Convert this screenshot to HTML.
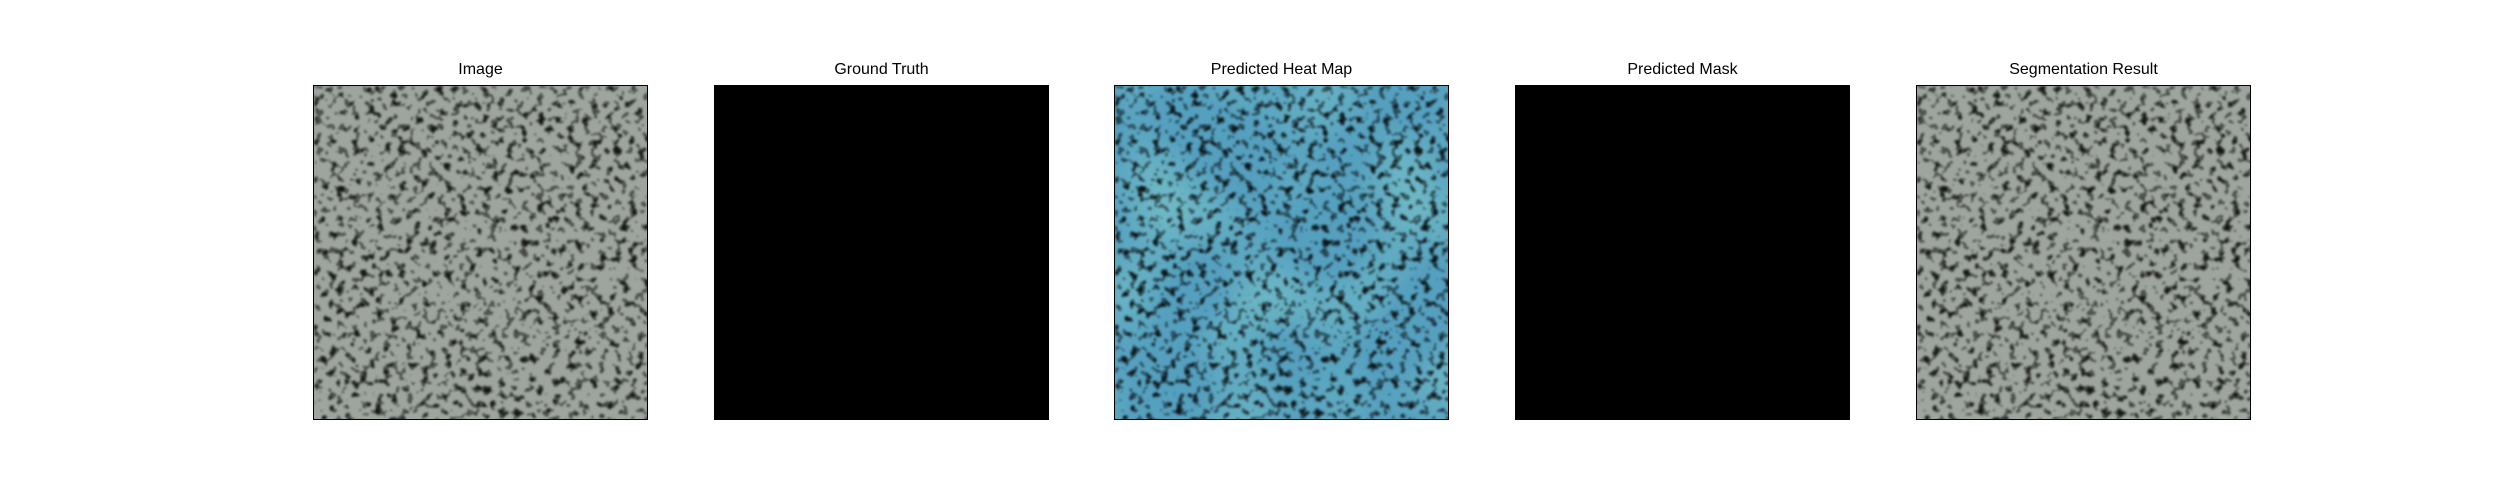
<!DOCTYPE html>
<html><head><meta charset="utf-8">
<style>
html,body{margin:0;padding:0;background:#fff;}
body{width:2500px;height:500px;position:relative;overflow:hidden;font-family:"Liberation Sans","DejaVu Sans",sans-serif;}
.title{position:absolute;top:61px;width:335px;text-align:center;font-size:16px;color:#000;}
.panel{position:absolute;top:85px;width:335px;height:335px;box-sizing:border-box;border:1.5px solid #000;overflow:hidden;}
.panel svg{display:block;}
</style></head><body>
<svg width="0" height="0" style="position:absolute">
 <defs>
  <filter id="spots" x="0" y="0" width="100%" height="100%">
   <feTurbulence type="fractalNoise" baseFrequency="0.13" numOctaves="2" seed="7" result="n"/>
   <feColorMatrix in="n" type="matrix" values="0 0 0 0 0  0 0 0 0 0  0 0 0 0 0  1.4 0 0 0 -0.3" result="a"/>
   <feComponentTransfer in="a" result="t"><feFuncA type="discrete" tableValues="0 0 0 0.5 0.85 0.9"/></feComponentTransfer>
   <feGaussianBlur in="t" stdDeviation="1"/>
  </filter>
  <filter id="glow" x="0" y="0" width="100%" height="100%">
   <feTurbulence type="fractalNoise" baseFrequency="0.012" numOctaves="1" seed="3"/>
   <feColorMatrix type="matrix" values="0 0 0 0 0.35  0 0 0 0 0.8  0 0 0 0 0.65  1.0 0 0 0 -0.45"/>
  </filter>
 </defs>
</svg>

<div class="title" style="left:313px">Image</div>
<div class="panel" style="left:313px">
 <svg width="335" height="335"><rect width="335" height="335" fill="#9ea59e"/><rect width="335" height="335" fill="#424240" filter="url(#spots)"/></svg>
</div>

<div class="title" style="left:714px">Ground Truth</div>
<div class="panel" style="left:714px;background:#000"></div>

<div class="title" style="left:1114px">Predicted Heat Map</div>
<div class="panel" style="left:1114px">
 <svg width="335" height="335"><rect width="335" height="335" fill="#55a0bf"/><rect width="335" height="335" filter="url(#glow)"/><rect width="335" height="335" fill="#2a6d8a" filter="url(#spots)"/></svg>
</div>

<div class="title" style="left:1515px">Predicted Mask</div>
<div class="panel" style="left:1515px;background:#000"></div>

<div class="title" style="left:1916px">Segmentation Result</div>
<div class="panel" style="left:1916px">
 <svg width="335" height="335"><rect width="335" height="335" fill="#9ea59e"/><rect width="335" height="335" fill="#424240" filter="url(#spots)"/></svg>
</div>
</body></html>
